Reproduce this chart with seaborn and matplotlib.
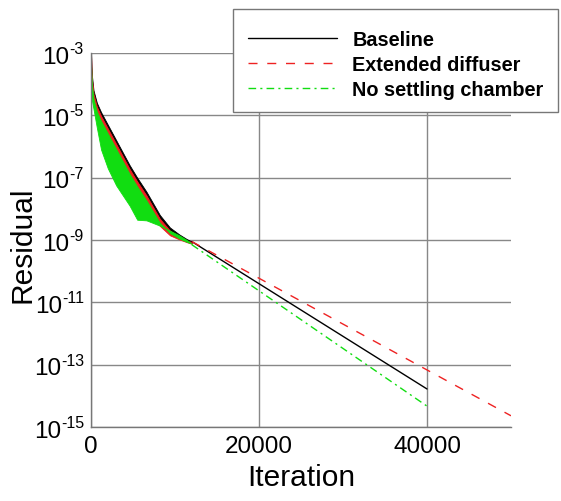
import numpy as np
import pandas as pd
import matplotlib
matplotlib.use("Agg")
import matplotlib.pyplot as plt
from matplotlib.patches import Rectangle
from matplotlib.transforms import offset_copy
import seaborn as sns

# style
sns.set_style("white")
plt.rcParams["font.family"] = ["Liberation Sans", "DejaVu Sans"]
plt.rcParams["text.color"] = "black"
plt.rcParams["axes.labelcolor"] = "black"
plt.rcParams["xtick.labelcolor"] = "black"

# noisy start of the convergence history (envelopes, log10 of residual)
band_iter = [0, 100, 300, 700, 1200, 2000, 3000, 4600, 5500, 6600, 8200, 9400, 10500, 11400, 12000]
baseline_hi = [-3.0, -3.7, -4.2, -4.6, -4.9, -5.3, -5.8, -6.6, -7.0, -7.45, -8.2, -8.6, -8.82, -8.97, -9.05]
baseline_lo = [-3.4, -4.0, -4.5, -4.9, -5.2, -5.6, -6.1, -6.9, -7.3, -7.75, -8.45, -8.8, -8.95, -9.05, -9.1]
extended_hi = [-3.0, -3.8, -4.32, -4.72, -5.02, -5.42, -5.92, -6.72, -7.12, -7.57, -8.32, -8.7, -8.9, -9.02, -9.07]
extended_lo = [-3.6, -4.2, -4.7, -5.1, -5.5, -5.9, -6.4, -7.1, -7.5, -7.9, -8.55, -8.85, -8.98, -9.07, -9.12]
nosettle_hi = [-3.3, -4.0, -4.48, -4.88, -5.18, -5.58, -6.08, -6.88, -7.28, -7.73, -8.45, -8.78, -8.95, -9.06, -9.12]
nosettle_lo = [-4.3, -4.5, -4.8, -5.4, -6.1, -6.7, -7.25, -7.9, -8.35, -8.37, -8.54, -8.7, -8.85, -9.0, -9.12]

# smooth tails (log10 of residual)
cases = ["Baseline", "Extended diffuser", "No settling chamber"]
tail_iter = {
    "Baseline": [12000, 40000],
    "Extended diffuser": [12000, 50000],
    "No settling chamber": [12000, 40000],
}
tail_log = {
    "Baseline": [-9.05, -13.78],
    "Extended diffuser": [-9.05, -14.64],
    "No settling chamber": [-9.15, -14.33],
}

# y tick exponents
y_exps = [-15, -13, -11, -9, -7, -5, -3]

colors = {"Baseline": "black", "Extended diffuser": "#ee2222", "No settling chamber": "#11dd11"}
dashes = {"Baseline": "", "Extended diffuser": (6.5, 7), "No settling chamber": (5.5, 3, 1.5, 3)}

rows = []
for c in cases:
    for it, lv in zip(tail_iter[c], tail_log[c]):
        rows.append({"case": c, "iter": it, "residual": 10.0 ** lv})
df = pd.DataFrame(rows)

fig = plt.figure(figsize=(5.61, 5.02), dpi=100)
ax = fig.add_axes([91 / 561, 1 - 428 / 502, 420 / 561, 374 / 502])

bi = np.array(band_iter)
for hi, lo, c in [(baseline_hi, baseline_lo, "Baseline"),
                  (extended_hi, extended_lo, "Extended diffuser"),
                  (nosettle_hi, nosettle_lo, "No settling chamber")]:
    ax.fill_between(bi, 10.0 ** np.array(lo), 10.0 ** np.array(hi),
                    color=colors[c], lw=0.6, zorder=2)

sns.lineplot(data=df, x="iter", y="residual", hue="case", style="case",
             palette=colors, dashes=dashes, hue_order=cases, style_order=cases,
             linewidth=1.0, ax=ax, legend=False, zorder=3)

ax.set_yscale("log")
ax.set_xlim(0, 50000)
ax.set_ylim(1e-15, 1e-3)

ax.set_yticks([10.0 ** e for e in y_exps])
ax.set_yticklabels([])
ax.minorticks_off()
ax.set_xticks([0, 20000, 40000])
ax.set_xticks(np.arange(0, 50001, 5000), minor=True)
ax.tick_params(axis="x", which="both", direction="in", length=5, color="#777777",
               labelsize=17.5, labelcolor="black", pad=6)
ax.tick_params(axis="x", which="major", length=0)
ax.tick_params(axis="y", direction="in", length=4, color="#777777")

# y tick labels as "10" with a small raised exponent
ytrans = ax.get_yaxis_transform()
for e in y_exps:
    tr = offset_copy(ytrans, fig=fig, x=-7, y=12, units="dots")
    sup = ax.text(0, 10.0 ** e, str(e), transform=tr, ha="right", va="top",
                  fontsize=11.5, color="black", clip_on=False)
    ax.annotate("10", xy=(0, 1), xycoords=sup, xytext=(0, -3.3), textcoords="offset points",
                ha="right", va="top", fontsize=17.5, color="black", annotation_clip=False)

ax.grid(True, which="major", color="#888888", lw=1.0, zorder=1)
for s in ["top", "right"]:
    ax.spines[s].set_visible(False)
for s in ["left", "bottom"]:
    ax.spines[s].set_color("#777777")
    ax.spines[s].set_linewidth(1.0)

ax.set_xlabel("Iteration", fontsize=21.5, labelpad=4, color="black")
ax.set_ylabel("Residual", fontsize=21.5, color="black")
ax.yaxis.set_label_coords(-0.13, 0.49)

# legend: box drawn as a patch, entries on top
box = Rectangle((233 / 561, 1 - 113 / 502), 325 / 561, 103 / 502,
                transform=fig.transFigure, facecolor="white",
                edgecolor="#777777", lw=1.0, zorder=5, clip_on=False)
ax.add_patch(box)
handles = [plt.Line2D([], [], color=colors[c], lw=1.0) for c in cases]
handles[1].set_dashes(dashes["Extended diffuser"])
handles[2].set_dashes(dashes["No settling chamber"])
leg = ax.legend(handles, cases, loc="center left", bbox_to_anchor=(248 / 561, 1 - 65.5 / 502),
                bbox_transform=fig.transFigure, prop={"weight": "bold", "size": 14.3},
                handlelength=4.5, handletextpad=0.75, labelspacing=0.3,
                borderpad=0, borderaxespad=0, frameon=False, labelcolor="black")
leg.set_zorder(6)

fig.savefig("out.png", dpi=100)
